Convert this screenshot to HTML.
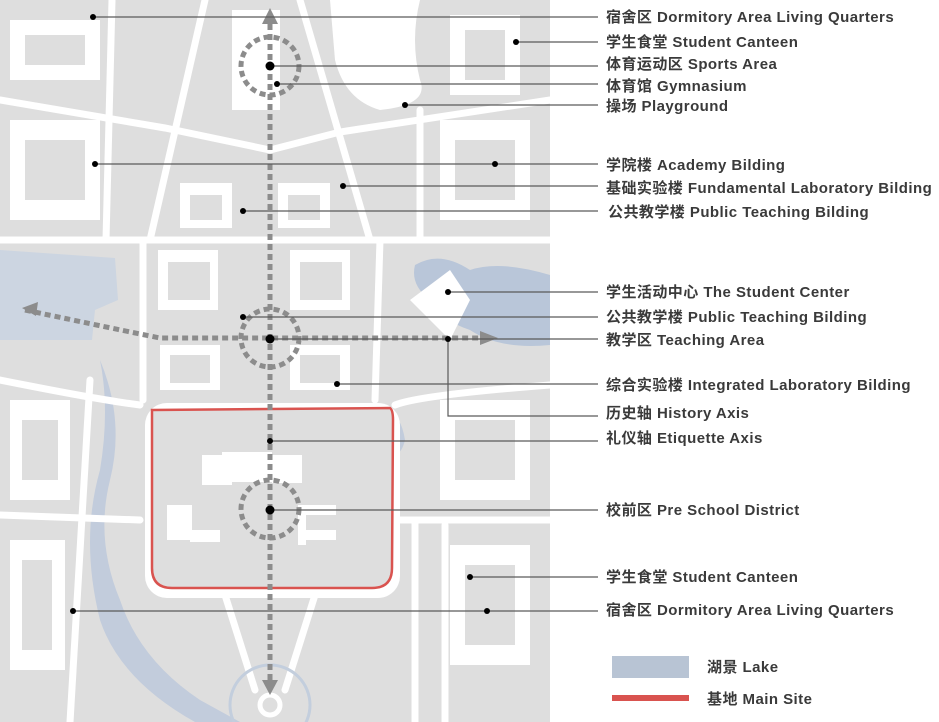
<!DOCTYPE html>
<html><head><meta charset="utf-8"><style>
html,body{margin:0;padding:0;background:#fff;}
svg{display:block;}
text{font-family:"Liberation Sans","Noto Sans CJK SC",sans-serif;font-size:15px;font-weight:bold;fill:#3a3a3a;letter-spacing:0.45px;}
</style></head><body>
<svg width="939" height="722" viewBox="0 0 939 722" xmlns="http://www.w3.org/2000/svg">
<rect x="0" y="0" width="550" height="722" fill="#dedede"/>
<path d="M0 250 L115 258 L118 300 L95 310 L92 340 L0 340 Z" fill="#ccd5e1"/>
<path d="M100 360 Q125 420 110 480 Q95 540 120 600 Q140 660 200 700 L240 722 L195 722 Q120 680 100 620 Q80 540 100 470 Q110 410 100 360 Z" fill="#c2ccdc"/>
<path d="M415 265 Q440 250 470 270 Q500 260 550 275 L550 345 Q500 350 470 330 Q440 320 430 300 Q410 285 415 265 Z" fill="#b9c6d9"/>
<path d="M385 415 Q400 410 405 440 Q400 460 390 450 Z" fill="#c2ccdc"/>
<path d="M330 0 L420 0 Q410 40 420 80 Q430 105 380 110 Q345 100 335 60 Z" fill="#fff"/>
<g stroke="#fff" stroke-width="7" fill="none" stroke-linecap="round">
<path d="M0 100 L165 128 L270 150 L340 132 L550 100"/>
<path d="M0 240 L550 240"/>
<path d="M112 0 L106 240"/>
<path d="M205 0 L150 240"/>
<path d="M300 0 L370 240"/>
<path d="M420 110 L420 240"/>
<path d="M143 240 L143 400"/>
<path d="M380 240 L375 400"/>
<path d="M0 380 Q100 400 140 405"/>
<path d="M395 405 Q420 395 550 385"/>
<path d="M0 515 L140 520"/>
<path d="M400 520 L550 520"/>
<path d="M90 380 L70 722"/>
<path d="M415 520 L415 722"/>
<path d="M445 525 L445 722"/>
<path d="M225 595 L255 690 M315 595 L285 690"/>
</g>
<circle cx="270" cy="705" r="40" fill="none" stroke="#c3cedd" stroke-width="3"/>
<circle cx="270" cy="705" r="10" fill="#dedede" stroke="#fff" stroke-width="5"/>
<rect x="145" y="403" width="255" height="195" rx="22" fill="#fff"/>
<path d="M152 410 L390 408 Q393 410 393 420 L392 568 Q392 588 372 588 L172 588 Q152 588 152 568 Z" fill="#dedede" stroke="#d9534f" stroke-width="2.5"/>
<g fill="#fff">
<rect x="202" y="455" width="30" height="30"/><rect x="222" y="452" width="50" height="30"/><rect x="272" y="455" width="30" height="28"/>
<rect x="167" y="505" width="25" height="35"/><rect x="190" y="530" width="30" height="12"/>
<rect x="300" y="505" width="36" height="10"/><rect x="300" y="530" width="36" height="10"/><rect x="298" y="505" width="8" height="40"/>
<rect x="180" y="183" width="52" height="45"/><rect x="278" y="183" width="52" height="45"/>
<rect x="158" y="250" width="60" height="60"/><rect x="290" y="250" width="60" height="60"/>
<rect x="160" y="345" width="60" height="45"/><rect x="290" y="345" width="60" height="45"/>
<rect x="232" y="10" width="48" height="100"/>
<rect x="10" y="20" width="90" height="60"/><rect x="10" y="120" width="90" height="100"/>
<rect x="440" y="120" width="90" height="100"/><rect x="450" y="15" width="70" height="80"/>
<rect x="440" y="400" width="90" height="100"/><rect x="450" y="545" width="80" height="120"/>
<rect x="10" y="400" width="60" height="100"/><rect x="10" y="540" width="55" height="130"/>
<path d="M410 300 L450 270 L470 300 L450 340 Z"/>
</g>
<g fill="#dedede">
<rect x="190" y="195" width="32" height="25"/><rect x="288" y="195" width="32" height="25"/>
<rect x="168" y="262" width="42" height="38"/><rect x="300" y="262" width="42" height="38"/>
<rect x="170" y="355" width="40" height="28"/><rect x="300" y="355" width="40" height="28"/>
<rect x="25" y="35" width="60" height="30"/><rect x="25" y="140" width="60" height="60"/>
<rect x="455" y="140" width="60" height="60"/><rect x="465" y="30" width="40" height="50"/>
<rect x="455" y="420" width="60" height="60"/><rect x="465" y="565" width="50" height="80"/>
<rect x="22" y="420" width="36" height="60"/><rect x="22" y="560" width="30" height="90"/>
</g>
<g stroke="#8c8c8c" stroke-width="5" fill="none" stroke-dasharray="6 4">
<path d="M270 24 L270 680"/>
<path d="M25 310 Q120 330 160 338 L485 338"/>
<circle cx="270" cy="66" r="29"/>
<circle cx="270" cy="338" r="29"/>
<circle cx="270" cy="509" r="29"/>
</g>
<g fill="#8c8c8c">
<path d="M262 24 L270 8 L278 24 Z"/>
<path d="M262 680 L270 695 L278 680 Z"/>
<path d="M480 331 L498 338 L480 345 Z"/>
<path d="M38 302 L22 308 L36 316 Z"/>
</g>
<g stroke="#5a5a5a" stroke-width="1.2" fill="none">
<path d="M93 17 H598"/><path d="M516 42 H598"/><path d="M270 66 H598"/><path d="M277 84 H598"/><path d="M405 105 H598"/>
<path d="M95 164 H598"/><path d="M343 186 H598"/><path d="M243 211 H598"/>
<path d="M448 292 H598"/><path d="M243 317 H598"/><path d="M270 339 H598"/>
<path d="M448 339 V416 H598"/><path d="M337 384 H598"/><path d="M270 441 H598"/><path d="M270 510 H598"/>
<path d="M470 577 H598"/><path d="M73 611 H598"/>
</g>
<g fill="#000">
<circle cx="93" cy="17" r="3"/><circle cx="516" cy="42" r="3"/><circle cx="270" cy="66" r="4.5"/><circle cx="277" cy="84" r="3"/><circle cx="405" cy="105" r="3"/>
<circle cx="95" cy="164" r="3"/><circle cx="495" cy="164" r="3"/><circle cx="343" cy="186" r="3"/><circle cx="243" cy="211" r="3"/>
<circle cx="448" cy="292" r="3"/><circle cx="243" cy="317" r="3"/><circle cx="270" cy="339" r="4.5"/><circle cx="448" cy="339" r="3"/>
<circle cx="337" cy="384" r="3"/><circle cx="270" cy="441" r="3"/><circle cx="270" cy="510" r="4.5"/>
<circle cx="470" cy="577" r="3"/><circle cx="73" cy="611" r="3"/><circle cx="487" cy="611" r="3"/>
</g>
<text x="606" y="22">宿舍区 Dormitory Area Living Quarters</text>
<text x="606" y="47">学生食堂 Student Canteen</text>
<text x="606" y="69">体育运动区 Sports Area</text>
<text x="606" y="91">体育馆 Gymnasium</text>
<text x="606" y="111">操场 Playground</text>
<text x="606" y="170">学院楼 Academy Bilding</text>
<text x="606" y="193">基础实验楼 Fundamental Laboratory Bilding</text>
<text x="608" y="217">公共教学楼 Public Teaching Bilding</text>
<text x="606" y="297">学生活动中心 The Student Center</text>
<text x="606" y="322">公共教学楼 Public Teaching Bilding</text>
<text x="606" y="345">教学区 Teaching Area</text>
<text x="606" y="390">综合实验楼 Integrated Laboratory Bilding</text>
<text x="606" y="418">历史轴 History Axis</text>
<text x="606" y="443">礼仪轴 Etiquette Axis</text>
<text x="606" y="515">校前区 Pre School District</text>
<text x="606" y="582">学生食堂 Student Canteen</text>
<text x="606" y="615">宿舍区 Dormitory Area Living Quarters</text>
<rect x="612" y="656" width="77" height="22" fill="#b8c4d4"/>
<rect x="612" y="695" width="77" height="6" fill="#d9534f"/>
<text x="707" y="672">湖景 Lake</text>
<text x="707" y="704">基地 Main Site</text>
</svg>
</body></html>
